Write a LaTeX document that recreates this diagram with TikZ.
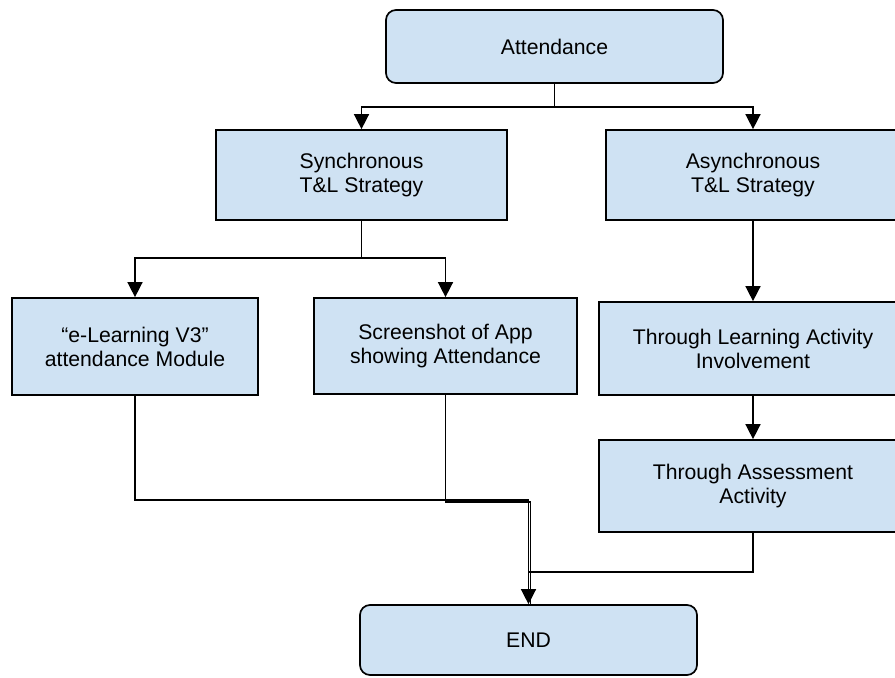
\documentclass[tikz,border=0pt]{standalone}
\usepackage{fontspec}
\setmainfont{Liberation Sans}
\usetikzlibrary{arrows.meta}
\definecolor{boxfill}{RGB}{207,226,243}
\tikzset{
  box/.style={draw=black, fill=boxfill, line width=0.85pt, align=center, inner sep=0pt,
    font=\fontsize{10.6}{12}\selectfont},
  rbox/.style={box, rounded corners=5pt},
  conn/.style={draw=black, line width=0.75pt},
  arr/.style={conn, -{Triangle[width=7.5pt,length=7.5pt]}}
}
\begin{document}
\begin{tikzpicture}[x=0.5pt,y=-0.5pt]
\useasboundingbox (0,0) rectangle (895,678);
\clip (0,0) rectangle (895,678);
% nodes
\node[rbox, minimum width=168.5pt, minimum height=36.5pt] (att) at (554.5,46.5) {Attendance};
\node[box, minimum width=145.5pt, minimum height=45pt] (sync) at (361.5,175) {Synchronous\\T\&L Strategy};
\node[box, minimum width=147pt, minimum height=45pt] (async) at (753,175) {Asynchronous\\T\&L Strategy};
\node[box, minimum width=123pt, minimum height=48.5pt] (elearn) at (135,346.5) {“e-Learning V3”\\attendance Module};
\node[box, minimum width=131.5pt, minimum height=48pt] (shot) at (445.5,346) {Screenshot of App\\showing Attendance};
\node[box, minimum width=154pt, minimum height=46.5pt] (learn) at (753,348.5) {Through Learning Activity\\Involvement};
\node[box, minimum width=154pt, minimum height=46pt] (assess) at (753,486) {Through Assessment\\Activity};
\node[rbox, minimum width=168.5pt, minimum height=35pt] (end) at (528.5,640) {END};
% junction levels
\coordinate (ya) at (0,107);
\coordinate (yb) at (0,258);
\coordinate (ye) at (0,500);
\coordinate (yf) at (0,502);
\coordinate (yg) at (0,572);
% connectors
\draw[arr] (att.south) -- (att.south |- ya) -| (sync.north);
\draw[arr] (att.south) -- (att.south |- ya) -| (async.north);
\draw[arr] (sync.south) -- (sync.south |- yb) -| (elearn.north);
\draw[arr] (sync.south) -- (sync.south |- yb) -| (shot.north);
\draw[arr] (async.south) -- (learn.north);
\draw[arr] (learn.south) -- (assess.north);
\draw[conn] (shot.south) -- (shot.south |- yf) -| ([xshift=1pt]end.north);
\draw[conn] (assess.south) -- (assess.south |- yg) -- (end.north |- yg);
\draw[arr] (elearn.south) -- (elearn.south |- ye) -| (end.north);
\end{tikzpicture}
\end{document}
